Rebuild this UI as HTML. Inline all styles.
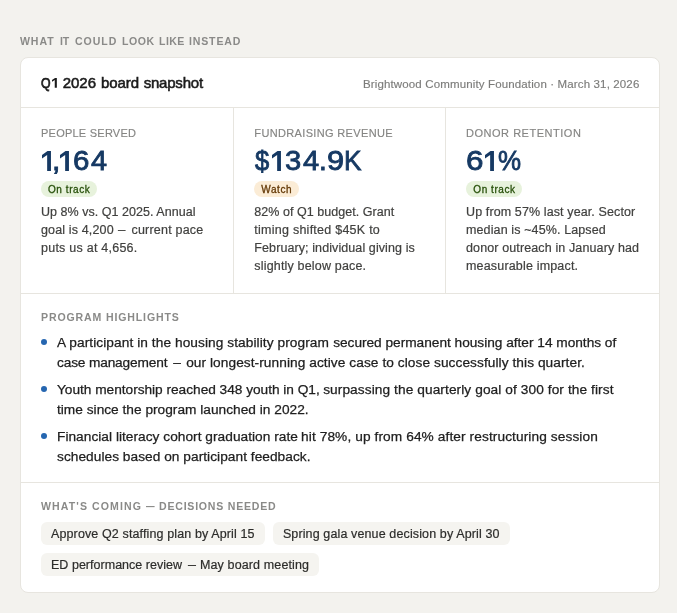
<!DOCTYPE html>
<html><head><meta charset="utf-8">
<style>
*{box-sizing:border-box;margin:0;padding:0}
html,body{width:677px;height:613px;overflow:hidden}
body{background:#f3f2ee;font-family:"Liberation Sans",sans-serif;position:relative}
.card{position:absolute;left:20px;top:57px;width:640px;height:536px;background:#fff;border:1px solid #e7e5df;border-radius:8px}
.hr{position:absolute;left:21px;width:638px;height:1px;background:#e7e5df}
.vr{position:absolute;top:108px;width:1px;height:185px;background:#e7e5df}
.pill{position:absolute;top:181px;height:15.6px;border-radius:8px}
.g{background:#e7f2dc}
.w{background:#fbecd6}
.dot{position:absolute;left:41px;width:6px;height:6px;border-radius:50%;background:#2566b0}
.chip{position:absolute;left:41px;height:22.7px;border-radius:6px;background:#f5f4f0}
.t{position:absolute;white-space:nowrap;line-height:30px;height:30px}
.t i{display:inline-block;width:0;height:0}
</style></head><body>
<div class="card"></div>
<div class="hr" style="top:107px"></div>
<div class="hr" style="top:293px"></div>
<div class="hr" style="top:482px"></div>
<div class="vr" style="left:233px"></div>
<div class="vr" style="left:445px"></div>
<div class="pill g" style="left:41px;width:55.8px"></div>
<div class="pill w" style="left:254px;width:44.6px"></div>
<div class="pill g" style="left:466px;width:56px"></div>
<div class="dot" style="top:339px"></div>
<div class="dot" style="top:386px"></div>
<div class="dot" style="top:433px"></div>
<div class="chip" style="top:522.1px;width:224px"></div>
<div class="chip" style="top:522.1px;left:272.9px;width:237px"></div>
<div class="chip" style="top:553px;width:277.8px"></div>
<div id="txt" style="position:absolute;left:0;top:0;width:677px;height:613px;will-change:transform">
<div class="t" id="eyebrow" style="left:20.37px;top:26.11px;font-size:11px;font-weight:700;color:#8a8a88;letter-spacing:0.942px;;transform-origin:0 50%;transform:scaleX(0.9600)">WHAT<i></i></div>
<div class="t" id="eb2" style="left:59.82px;top:26.11px;font-size:11px;font-weight:700;color:#8a8a88;letter-spacing:-0.273px;;transform-origin:0 50%;transform:scaleX(0.9600)">IT<i></i></div>
<div class="t" id="eb3" style="left:75.25px;top:26.11px;font-size:11px;font-weight:700;color:#8a8a88;letter-spacing:0.997px;;transform-origin:0 50%;transform:scaleX(0.9600)">COULD<i></i></div>
<div class="t" id="eb4" style="left:122.10px;top:26.11px;font-size:11px;font-weight:700;color:#8a8a88;letter-spacing:0.572px;;transform-origin:0 50%;transform:scaleX(0.9600)">LOOK<i></i></div>
<div class="t" id="eb5" style="left:159.03px;top:26.11px;font-size:11px;font-weight:700;color:#8a8a88;letter-spacing:0.457px;;transform-origin:0 50%;transform:scaleX(0.9600)">LIKE<i></i></div>
<div class="t" id="eb6" style="left:189.31px;top:26.11px;font-size:11px;font-weight:700;color:#8a8a88;letter-spacing:0.871px;;transform-origin:0 50%;transform:scaleX(0.9600)">INSTEAD<i></i></div>
<div class="t" id="title" style="left:41.39px;top:67.90px;font-size:15px;font-weight:400;color:#1b1b1b;letter-spacing:0.000px;-webkit-text-stroke:.75px #1b1b1b;transform-origin:0 50%;transform:scaleX(0.8200)">Q<i></i></div>
<div class="t" id="title2" style="left:62.80px;top:67.91px;font-size:15px;font-weight:400;color:#1b1b1b;letter-spacing:-0.054px;-webkit-text-stroke:.55px #1b1b1b">2026<i></i></div>
<div class="t" id="title3" style="left:100.99px;top:67.91px;font-size:15px;font-weight:400;color:#1b1b1b;letter-spacing:-0.092px;-webkit-text-stroke:.55px #1b1b1b">board<i></i></div>
<div class="t" id="title4" style="left:143.66px;top:67.91px;font-size:15px;font-weight:400;color:#1b1b1b;letter-spacing:-0.206px;-webkit-text-stroke:.55px #1b1b1b">snapshot<i></i></div>
<div class="t" id="org" style="left:362.98px;top:69.00px;font-size:11.5px;font-weight:400;color:#7c7c7a;letter-spacing:0.140px;-webkit-text-stroke:.15px #7c7c7a">Brightwood Community Foundation · March 31, 2026<i></i></div>
<div class="t" id="lab1" style="left:41.00px;top:118.10px;font-size:11px;font-weight:400;color:#858583;letter-spacing:0.237px;-webkit-text-stroke:.15px #858583">PEOPLE SERVED<i></i></div>
<div class="t" id="lab2" style="left:254.33px;top:118.10px;font-size:11px;font-weight:400;color:#858583;letter-spacing:0.347px;-webkit-text-stroke:.15px #858583">FUNDRAISING REVENUE<i></i></div>
<div class="t" id="lab3" style="left:466.00px;top:118.10px;font-size:11px;font-weight:400;color:#858583;letter-spacing:0.523px;-webkit-text-stroke:.15px #858583">DONOR RETENTION<i></i></div>
<div class="t" id="p1" style="left:48.00px;top:175.10px;font-size:10px;font-weight:400;color:#27500a;letter-spacing:0.575px;-webkit-text-stroke:.3px #27500a">On track<i></i></div>
<div class="t" id="p2" style="left:261.33px;top:175.10px;font-size:10px;font-weight:400;color:#633806;letter-spacing:0.572px;-webkit-text-stroke:.3px #633806">Watch<i></i></div>
<div class="t" id="p3" style="left:473.30px;top:175.10px;font-size:10px;font-weight:400;color:#27500a;letter-spacing:0.562px;-webkit-text-stroke:.3px #27500a">On track<i></i></div>
<div class="t" id="d11" style="left:41.00px;top:197.10px;font-size:12.5px;font-weight:400;color:#41413f;letter-spacing:0.035px;-webkit-text-stroke:.2px #41413f">Up 8% vs. Q1 2025. Annual<i></i></div>
<div class="t" id="d12" style="left:41.00px;top:215.10px;font-size:12.5px;font-weight:400;color:#41413f;letter-spacing:0.146px;-webkit-text-stroke:.2px #41413f">goal is 4,200<i></i></div>
<div class="t" id="d12d" style="left:118.00px;top:215.11px;font-size:12.5px;font-weight:400;color:#41413f;letter-spacing:0.000px;-webkit-text-stroke:.2px #41413f;transform-origin:0 50%;transform:scaleX(1.0600)">–<i></i></div>
<div class="t" id="d12b" style="left:131.46px;top:215.10px;font-size:12.5px;font-weight:400;color:#41413f;letter-spacing:0.208px;-webkit-text-stroke:.2px #41413f">current pace<i></i></div>
<div class="t" id="d13" style="left:41.00px;top:233.10px;font-size:12.5px;font-weight:400;color:#41413f;letter-spacing:0.241px;-webkit-text-stroke:.2px #41413f">puts us at 4,656.<i></i></div>
<div class="t" id="d21" style="left:254.33px;top:197.10px;font-size:12.5px;font-weight:400;color:#41413f;letter-spacing:0.039px;-webkit-text-stroke:.2px #41413f">82% of Q1 budget. Grant<i></i></div>
<div class="t" id="d22" style="left:254.33px;top:215.10px;font-size:12.5px;font-weight:400;color:#41413f;letter-spacing:0.251px;-webkit-text-stroke:.2px #41413f">timing shifted $45K to<i></i></div>
<div class="t" id="d23" style="left:254.33px;top:233.10px;font-size:12.5px;font-weight:400;color:#41413f;letter-spacing:0.094px;-webkit-text-stroke:.2px #41413f">February; individual giving is<i></i></div>
<div class="t" id="d24" style="left:254.33px;top:251.10px;font-size:12.5px;font-weight:400;color:#41413f;letter-spacing:0.177px;-webkit-text-stroke:.2px #41413f">slightly below pace.<i></i></div>
<div class="t" id="d31" style="left:466.00px;top:197.10px;font-size:12.5px;font-weight:400;color:#41413f;letter-spacing:0.114px;-webkit-text-stroke:.2px #41413f">Up from 57% last year. Sector<i></i></div>
<div class="t" id="d32" style="left:466.00px;top:215.10px;font-size:12.5px;font-weight:400;color:#41413f;letter-spacing:0.120px;-webkit-text-stroke:.2px #41413f">median is ~45%. Lapsed<i></i></div>
<div class="t" id="d33" style="left:466.00px;top:233.10px;font-size:12.5px;font-weight:400;color:#41413f;letter-spacing:0.122px;-webkit-text-stroke:.2px #41413f">donor outreach in January had<i></i></div>
<div class="t" id="d34" style="left:466.00px;top:251.10px;font-size:12.5px;font-weight:400;color:#41413f;letter-spacing:0.173px;-webkit-text-stroke:.2px #41413f">measurable impact.<i></i></div>
<div class="t" id="labh" style="left:41.00px;top:302.20px;font-size:11px;font-weight:700;color:#8a8a88;letter-spacing:0.894px;;transform-origin:0 50%;transform:scaleX(0.9600)">PROGRAM HIGHLIGHTS<i></i></div>
<div class="t" id="h1" style="left:57.00px;top:328.41px;font-size:13.7px;font-weight:400;color:#202020;letter-spacing:0.074px;-webkit-text-stroke:.25px #202020">A participant in the housing stability program<i></i></div>
<div class="t" id="h1b" style="left:333.14px;top:328.41px;font-size:13.7px;font-weight:400;color:#202020;letter-spacing:-0.016px;-webkit-text-stroke:.25px #202020">secured permanent housing after 14 months of<i></i></div>
<div class="t" id="h2" style="left:57.00px;top:348.40px;font-size:13.7px;font-weight:400;color:#202020;letter-spacing:-0.154px;-webkit-text-stroke:.25px #202020">case management<i></i></div>
<div class="t" id="h2d" style="left:173.13px;top:348.40px;font-size:13.7px;font-weight:400;color:#202020;letter-spacing:0.000px;-webkit-text-stroke:.25px #202020">–<i></i></div>
<div class="t" id="h2b" style="left:186.13px;top:348.40px;font-size:13.7px;font-weight:400;color:#202020;letter-spacing:0.070px;-webkit-text-stroke:.25px #202020">our longest-running active case to close successfully this quarter.<i></i></div>
<div class="t" id="h3" style="left:57.00px;top:375.20px;font-size:13.7px;font-weight:400;color:#202020;letter-spacing:-0.020px;-webkit-text-stroke:.25px #202020">Youth mentorship reached 348 youth in Q1,<i></i></div>
<div class="t" id="h3b" style="left:323.14px;top:375.20px;font-size:13.7px;font-weight:400;color:#202020;letter-spacing:0.087px;-webkit-text-stroke:.25px #202020">surpassing the quarterly goal of 300 for the first<i></i></div>
<div class="t" id="h4" style="left:57.00px;top:395.20px;font-size:13.7px;font-weight:400;color:#202020;letter-spacing:0.012px;-webkit-text-stroke:.25px #202020">time since the program launched in 2022.<i></i></div>
<div class="t" id="h5" style="left:57.00px;top:422.20px;font-size:13.7px;font-weight:400;color:#202020;letter-spacing:0.030px;-webkit-text-stroke:.25px #202020">Financial literacy cohort graduation rate<i></i></div>
<div class="t" id="h5b" style="left:301.05px;top:422.20px;font-size:13.7px;font-weight:400;color:#202020;letter-spacing:0.099px;-webkit-text-stroke:.25px #202020">hit 78%, up from 64% after restructuring session<i></i></div>
<div class="t" id="h6" style="left:57.00px;top:442.20px;font-size:13.7px;font-weight:400;color:#202020;letter-spacing:0.042px;-webkit-text-stroke:.25px #202020">schedules based on participant feedback.<i></i></div>
<div class="t" id="labc" style="left:41.00px;top:491.41px;font-size:11px;font-weight:700;color:#8a8a88;letter-spacing:1.146px;;transform-origin:0 50%;transform:scaleX(0.9600)">WHAT'S COMING<i></i></div>
<div class="t" id="labcd" style="left:145.98px;top:491.41px;font-size:11px;font-weight:700;color:#8a8a88;letter-spacing:0.000px;;transform-origin:0 50%;transform:scaleX(0.7800)">—<i></i></div>
<div class="t" id="labcb" style="left:159.06px;top:491.41px;font-size:11px;font-weight:700;color:#8a8a88;letter-spacing:0.809px;;transform-origin:0 50%;transform:scaleX(0.9600)">DECISIONS NEEDED<i></i></div>
<div class="t" id="c1" style="left:51.00px;top:519.10px;font-size:12.5px;font-weight:400;color:#2c2c2a;letter-spacing:0.122px;-webkit-text-stroke:.2px #2c2c2a">Approve Q2 staffing plan by April 15<i></i></div>
<div class="t" id="c2" style="left:282.90px;top:519.10px;font-size:12.5px;font-weight:400;color:#2c2c2a;letter-spacing:0.124px;-webkit-text-stroke:.2px #2c2c2a">Spring gala venue decision by April 30<i></i></div>
<div class="t" id="c3" style="left:51.00px;top:550.10px;font-size:12.5px;font-weight:400;color:#2c2c2a;letter-spacing:0.023px;-webkit-text-stroke:.2px #2c2c2a">ED performance review<i></i></div>
<div class="t" id="c3d" style="left:187.60px;top:550.11px;font-size:12.5px;font-weight:400;color:#2c2c2a;letter-spacing:0.000px;-webkit-text-stroke:.2px #2c2c2a;transform-origin:0 50%;transform:scaleX(1.1400)">–<i></i></div>
<div class="t" id="c3b" style="left:199.94px;top:550.10px;font-size:12.5px;font-weight:400;color:#2c2c2a;letter-spacing:0.133px;-webkit-text-stroke:.2px #2c2c2a">May board meeting<i></i></div>
<div class="t" id="g_1c" style="left:51.53px;top:146.31px;font-size:27px;font-weight:400;color:#163963;letter-spacing:0.000px;-webkit-text-stroke:.8px #163963;transform-origin:0 50%;transform:scaleX(1.1072)">,<i></i></div>
<div class="t" id="g_16" style="left:72.64px;top:146.31px;font-size:27px;font-weight:400;color:#163963;letter-spacing:0.000px;-webkit-text-stroke:.8px #163963;transform-origin:0 50%;transform:scaleX(1.0909)">6<i></i></div>
<div class="t" id="g_14" style="left:90.82px;top:146.31px;font-size:27px;font-weight:400;color:#163963;letter-spacing:0.000px;-webkit-text-stroke:.8px #163963;transform-origin:0 50%;transform:scaleX(1.0698)">4<i></i></div>
<div class="t" id="g_2d" style="left:254.66px;top:146.31px;font-size:27px;font-weight:400;color:#163963;letter-spacing:0.000px;-webkit-text-stroke:.8px #163963;transform-origin:0 50%;transform:scaleX(0.9481)">$<i></i></div>
<div class="t" id="g_23" style="left:284.57px;top:146.31px;font-size:27px;font-weight:400;color:#163963;letter-spacing:0.000px;-webkit-text-stroke:.8px #163963;transform-origin:0 50%;transform:scaleX(1.0799)">3<i></i></div>
<div class="t" id="g_24" style="left:302.65px;top:146.31px;font-size:27px;font-weight:400;color:#163963;letter-spacing:0.000px;-webkit-text-stroke:.8px #163963;transform-origin:0 50%;transform:scaleX(1.0755)">4<i></i></div>
<div class="t" id="g_2p" style="left:319.00px;top:146.31px;font-size:27px;font-weight:400;color:#163963;letter-spacing:0.000px;-webkit-text-stroke:.8px #163963;transform-origin:0 50%;transform:scaleX(1.0376)">.<i></i></div>
<div class="t" id="g_29" style="left:327.20px;top:146.31px;font-size:27px;font-weight:400;color:#163963;letter-spacing:0.000px;-webkit-text-stroke:.8px #163963;transform-origin:0 50%;transform:scaleX(1.1399)">9<i></i></div>
<div class="t" id="g_2k" style="left:343.99px;top:146.31px;font-size:27px;font-weight:400;color:#163963;letter-spacing:0.000px;-webkit-text-stroke:.8px #163963;transform-origin:0 50%;transform:scaleX(0.9703)">K<i></i></div>
<div class="t" id="g_36" style="left:465.60px;top:146.31px;font-size:27px;font-weight:400;color:#163963;letter-spacing:0.000px;-webkit-text-stroke:.8px #163963;transform-origin:0 50%;transform:scaleX(1.1624)">6<i></i></div>
<div class="t" id="g_3p" style="left:497.74px;top:146.31px;font-size:27px;font-weight:400;color:#163963;letter-spacing:0.000px;-webkit-text-stroke:.8px #163963;transform-origin:0 50%;transform:scaleX(0.9601)">%<i></i></div>
<svg style="position:absolute;left:52.2px;top:78.15px" width="5" height="10" viewBox="0 0 5 10"><path d="M3.05 0H4.85V9.8H2.75V2.05L0 3.7V2Z" fill="#1b1b1b"/></svg>
<svg style="position:absolute;left:41.9px;top:150.8px" width="9" height="20" viewBox="0 0 9 20"><path d="M5.5 0H8.95V19.95H5.15V4.1L0 7.45V4.05Z" fill="#163963"/></svg>
<svg style="position:absolute;left:59.8px;top:150.8px" width="9" height="20" viewBox="0 0 9 20"><path d="M5.5 0H8.95V19.95H5.15V4.1L0 7.45V4.05Z" fill="#163963"/></svg>
<svg style="position:absolute;left:272.2px;top:150.8px" width="9" height="20" viewBox="0 0 9 20"><path d="M5.5 0H8.95V19.95H5.15V4.1L0 7.45V4.05Z" fill="#163963"/></svg>
<svg style="position:absolute;left:484.9px;top:150.8px" width="9" height="20" viewBox="0 0 9 20"><path d="M5.5 0H8.95V19.95H5.15V4.1L0 7.45V4.05Z" fill="#163963"/></svg>
</div>
</body></html>
